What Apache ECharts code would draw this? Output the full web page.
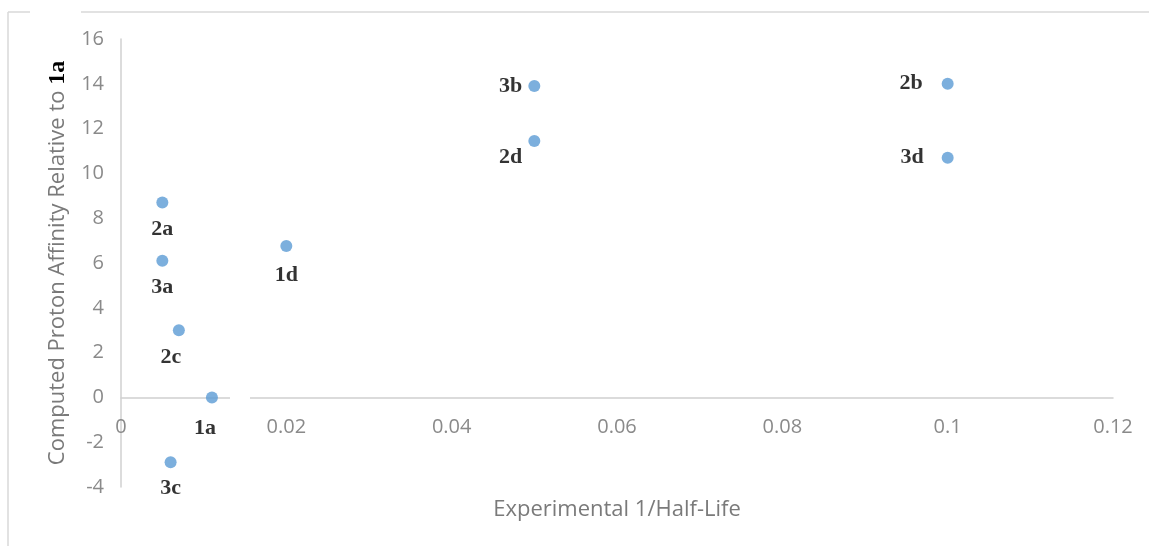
<!DOCTYPE html>
<html>
<head>
<meta charset="utf-8">
<script src="https://cdn.jsdelivr.net/npm/echarts@6/dist/echarts.min.js"></script>
<style>
  html, body { margin: 0; padding: 0; background: #fff; }
  #chart { width: 1149px; height: 546px; }
</style>
</head>
<body>
<div id="chart"></div>
<script>
// Compound labels and their measured values
const compounds = ['2a', '3a', '2c', '1a', '3c', '1d', '3b', '2d', '2b', '3d'];
const inverseHalfLife = [0.005, 0.005, 0.007, 0.011, 0.006, 0.020, 0.050, 0.050, 0.100, 0.100];
const protonAffinity = [8.7, 6.1, 3.0, 0.0, -2.9, 6.76, 13.9, 11.45, 14.0, 10.7];

// Where each compound's label sits relative to its point
const labelPlacement = {
  '2a': { position: 'bottom', distance: 10 },
  '3a': { position: 'bottom', distance: 10 },
  '2c': { position: 'bottom', distance: 10, offset: [-8, 0] },
  '1a': { position: 'bottom', distance: 14, offset: [-7, 0] },
  '3c': { position: 'bottom', distance: 9 },
  '1d': { position: 'bottom', distance: 12 },
  '3b': { position: 'left', distance: 6 },
  '2d': { position: 'left', distance: 6, offset: [0, 16] },
  '2b': { position: 'left', distance: 19 },
  '3d': { position: 'left', distance: 18 }
};

const tickFont = 'Open Sans, Noto Sans, sans-serif';
const labelFont = 'Liberation Serif, Times New Roman, serif';

const points = compounds.map((name, i) => ({
  name: name,
  value: [inverseHalfLife[i], protonAffinity[i]],
  label: Object.assign({ show: true, formatter: name }, labelPlacement[name])
}));

const chart = echarts.init(document.getElementById('chart'), null, { renderer: 'canvas' });
chart.setOption({
  animation: false,
  backgroundColor: '#ffffff',
  grid: { left: 121, right: 36, top: 39, bottom: 59, containLabel: false, outerBoundsMode: 'none' },
  xAxis: {
    type: 'value',
    min: 0, max: 0.12, interval: 0.02,
    name: 'Experimental 1/Half-Life',
    nameLocation: 'middle',
    nameGap: 101,
    nameTextStyle: { color: '#7a7a7a', fontFamily: tickFont, fontSize: 22 },
    axisLine: { onZero: false, lineStyle: { color: '#d0d0d0', width: 1.5 } },
    axisTick: { show: false },
    splitLine: { show: false },
    axisLabel: { color: '#8a8a8a', fontFamily: tickFont, fontSize: 20, margin: 20,
                 formatter: v => String(+v.toFixed(2)) }
  },
  yAxis: {
    type: 'value',
    min: -4, max: 16, interval: 2,
    name: 'Computed Proton Affinity Relative to {b|1a}',
    nameLocation: 'middle',
    nameRotate: 90,
    nameGap: 50,
    nameTextStyle: {
      color: '#7a7a7a', fontFamily: tickFont, fontSize: 22,
      rich: { b: { fontFamily: labelFont, fontWeight: 'bold', fontSize: 24, color: '#000' } }
    },
    axisLine: { show: true, onZero: false, lineStyle: { color: '#d0d0d0', width: 1.5 } },
    axisTick: { show: false },
    splitLine: { show: false },
    axisLabel: { color: '#8a8a8a', fontFamily: tickFont, fontSize: 20, margin: 17 }
  },
  series: [{
    type: 'scatter',
    symbol: 'circle',
    symbolSize: 12,
    itemStyle: { color: '#5b9bd5' },
    label: { color: '#000', fontFamily: labelFont, fontWeight: 'bold', fontSize: 22 },
    data: points
  }]
});

// Lift the horizontal axis (line, tick labels and title) up to y = 0
const yAtZero = chart.convertToPixel({ yAxisIndex: 0 }, 0);
const yAtMin = chart.convertToPixel({ yAxisIndex: 0 }, -4);
chart.setOption({
  xAxis: { offset: -(yAtMin - yAtZero) },
  graphic: [
    // frame around the chart area
    { type: 'line', shape: { x1: 8, y1: 12, x2: 30, y2: 12 }, style: { stroke: '#d9d9d9', lineWidth: 1.5 } },
    { type: 'line', shape: { x1: 81, y1: 12, x2: 1149, y2: 12 }, style: { stroke: '#d9d9d9', lineWidth: 1.5 } },
    { type: 'line', shape: { x1: 8, y1: 12, x2: 8, y2: 546 }, style: { stroke: '#d9d9d9', lineWidth: 1.5 } },
    // small blank box over the axis line
    { type: 'rect', shape: { x: 230, y: yAtZero - 4, width: 20, height: 8 }, style: { fill: '#fff' }, z: 100 }
  ]
});
</script>
</body>
</html>
